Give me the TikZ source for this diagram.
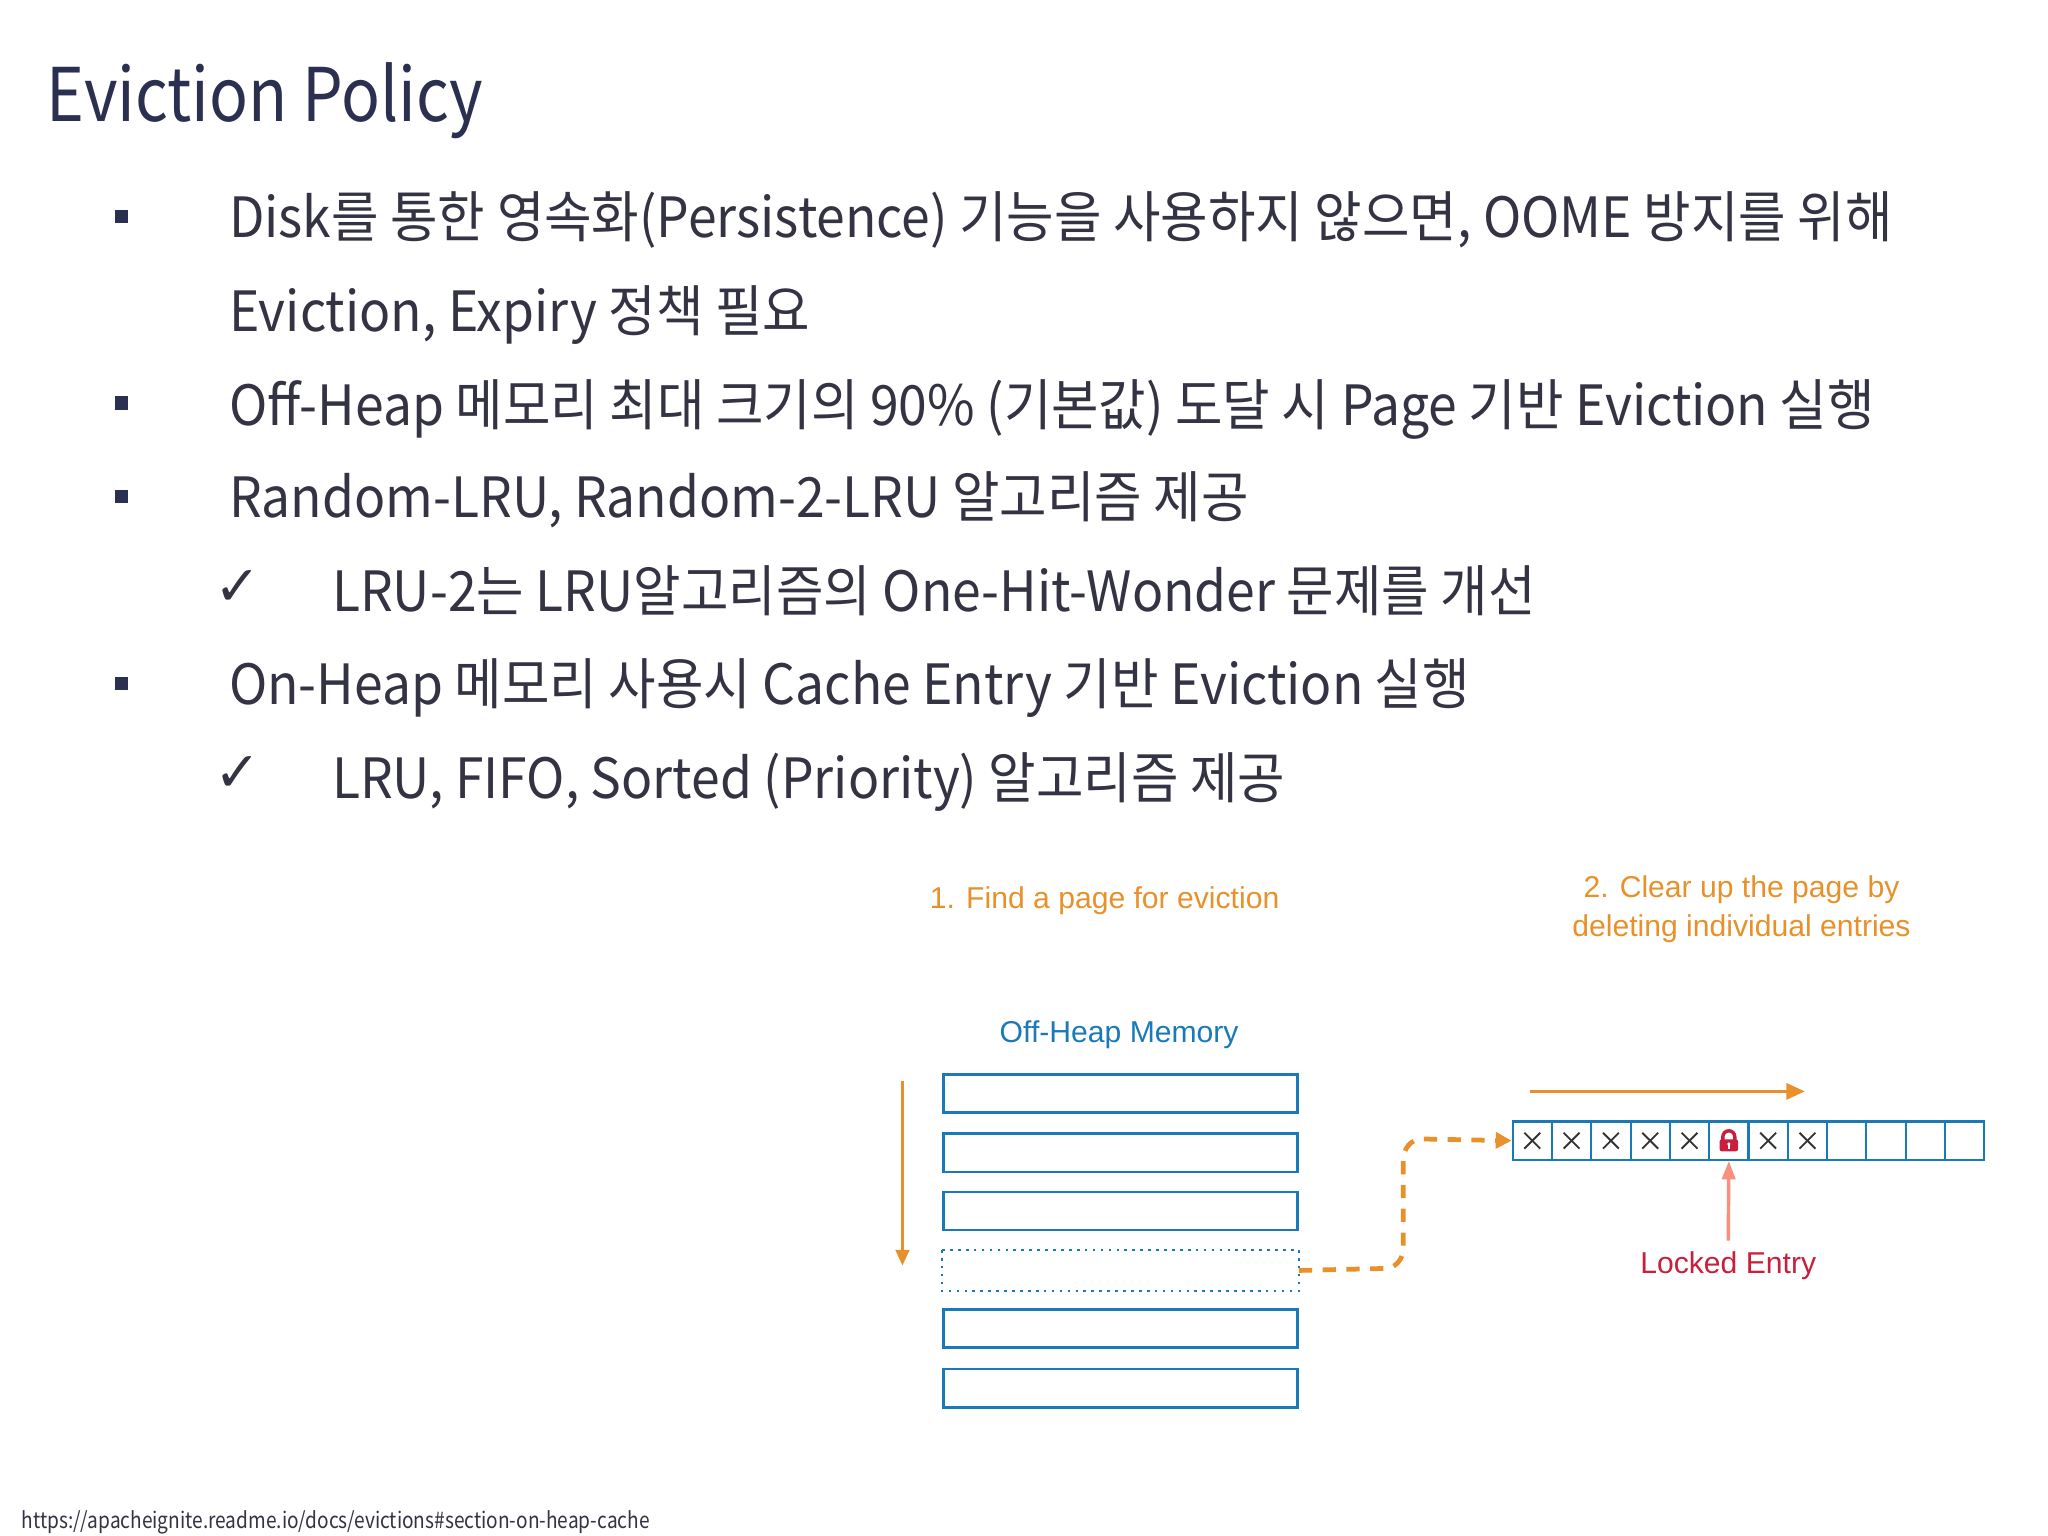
\documentclass[tikz,border=0pt]{standalone}
\usepackage{fontspec}
\setmainfont{Noto Sans CJK KR}
\newfontfamily\ar{Liberation Sans}
\newfontfamily\dv{DejaVu Sans}
\usetikzlibrary{arrows.meta}
\definecolor{navy}{HTML}{2B3050}
\definecolor{txt}{HTML}{333344}
\definecolor{org}{HTML}{E8912A}
\definecolor{blu}{HTML}{1A7AB8}
\definecolor{sal}{HTML}{F7907F}
\definecolor{crim}{HTML}{C8203C}
\tikzset{
 btext/.style={anchor=base west,inner sep=0,font=\fontsize{21}{25}\selectfont\addfontfeature{FakeStretch=0.93},text=txt},
 bmark/.style={fill=navy,minimum size=5pt,inner sep=0},
 cmark/.style={anchor=base west,inner sep=0,font=\dv\fontsize{21}{24}\selectfont,text=txt},
 page/.style={draw=blu,line width=1pt,minimum width=134pt,minimum height=14.5pt,inner sep=0,anchor=north west},
 cell/.style={draw=blu,line width=0.8pt,minimum width=14.875pt,minimum height=14.5pt,inner sep=0,anchor=north west},
 dlab/.style={font=\ar\fontsize{11.4}{14}\selectfont,align=center,inner sep=0},
}
\begin{document}
\begin{tikzpicture}[x=0.5pt,y=-0.5pt]
\fill[white] (0,0) rectangle (1550,1162);
\useasboundingbox (0,0) rectangle (1550,1162);
\node[anchor=base west,inner sep=0,text=navy,font=\fontsize{28}{32}\selectfont\addfontfeature{FakeStretch=0.87}] (title) at (35,92) {Eviction Policy};
% bullets
\node[bmark] (m1) at (92,164) {};
\node[btext] (t1) at (173,180) {Disk를 통한 영속화(Persistence) 기능을 사용하지 않으면, OOME 방지를 위해};
\node[btext] (t1b) at (173,251) {Eviction, Expiry 정책 필요};
\node[bmark] (m2) at (92,305) {};
\node[btext] (t2) at (173,322) {Off-Heap 메모리 최대 크기의 90\% (기본값) 도달 시 Page 기반 Eviction 실행};
\node[bmark] (m3) at (92,376) {};
\node[btext] (t3) at (173,392) {Random-LRU, Random-2-LRU 알고리즘 제공};
\node[cmark] (c1) at (162,458) {✓};
\node[btext] (t4) at (251,463) {LRU-2는 LRU알고리즘의 One-Hit-Wonder 문제를 개선};
\node[bmark] (m4) at (92,517) {};
\node[btext] (t5) at (173,533) {On-Heap 메모리 사용시 Cache Entry 기반 Eviction 실행};
\node[cmark] (c2) at (162,599) {✓};
\node[btext] (t6) at (251,604) {LRU, FIFO, Sorted (Priority) 알고리즘 제공};
% diagram labels
\node[dlab,text=org] (l1) at (836,682) {1. Find a page for eviction};
\node[dlab,text=org] (l2) at (1318,688) {2. Clear up the page by\\[1pt]deleting individual entries};
\node[dlab,text=blu] (l3) at (847,783) {Off-Heap Memory};
% pages
\node[page] (p1) at (713,812) {};
\node[page] (p2) at (713,857) {};
\node[page] (p3) at (713,901) {};
\node[page,draw=none] (p4) at (713,946) {};
\draw[blu,line width=1pt,dotted] (p4.north west) rectangle (p4.south east);
\node[page] (p5) at (713,990) {};
\node[page] (p6) at (713,1035) {};
\coordinate (vs) at (683,818);
\coordinate (ve) at (683,958);
\draw[org,line width=1.3pt,-{Triangle[length=6pt,width=5pt]}] (vs) -- (ve);
% cells
\foreach \i in {0,...,11}{
 \node[cell] (c\i) at ({1144+\i*29.75},848) {};
}
\foreach \i in {0,1,2,3,4,6,7}{
 \draw[black!80,line width=0.7pt] ([shift={(-6,-6)}]c\i.center) -- ([shift={(6,6)}]c\i.center);
 \draw[black!80,line width=0.7pt] ([shift={(-6,6)}]c\i.center) -- ([shift={(6,-6)}]c\i.center);
}
% lock
\draw[crim,line width=1.3pt] ([shift={(-4.5,0)}]c5.center) -- ++(0,-3) arc[start angle=180,end angle=360,radius=4.5] -- ++(0,3);
\fill[crim,rounded corners=0.8pt] ([shift={(-7,-1)}]c5.center) rectangle ([shift={(7,8)}]c5.center);
\fill[white] ([shift={(0,2.5)}]c5.center) circle (1.3);
\draw[white,line width=0.8pt] ([shift={(0,2.5)}]c5.center) -- ++(0,3.5);
% arrows
\coordinate (hs) at (1158,826);
\coordinate (he) at (1366,826);
\draw[org,line width=1.3pt,-{Triangle[length=7pt,width=6pt]}] (hs) -- (he);
\draw[org,line width=1.8pt,dash pattern=on 5pt off 4pt,-{Triangle[length=6pt,width=6pt]}]
 (p4.east) -- (1048,960) to[out=0,in=-90] (1062,945) -- (1062,878) to[out=90,in=180] (1076,862) -- (c0.west);
\node[dlab,text=crim] (le) at (1308,958) {Locked Entry};
\draw[sal,line width=1.3pt,-{Triangle[length=7pt,width=5pt]}] (le.north) ++(0,-8) -- (c5.south);
% url
\node[anchor=base west,inner sep=0,font=\fontsize{8.5}{10}\selectfont,text=txt] (url) at (16,1157) {\addfontfeature{FakeStretch=0.85}https://apacheignite.readme.io/docs/evictions\#section-on-heap-cache};
\end{tikzpicture}
\end{document}
